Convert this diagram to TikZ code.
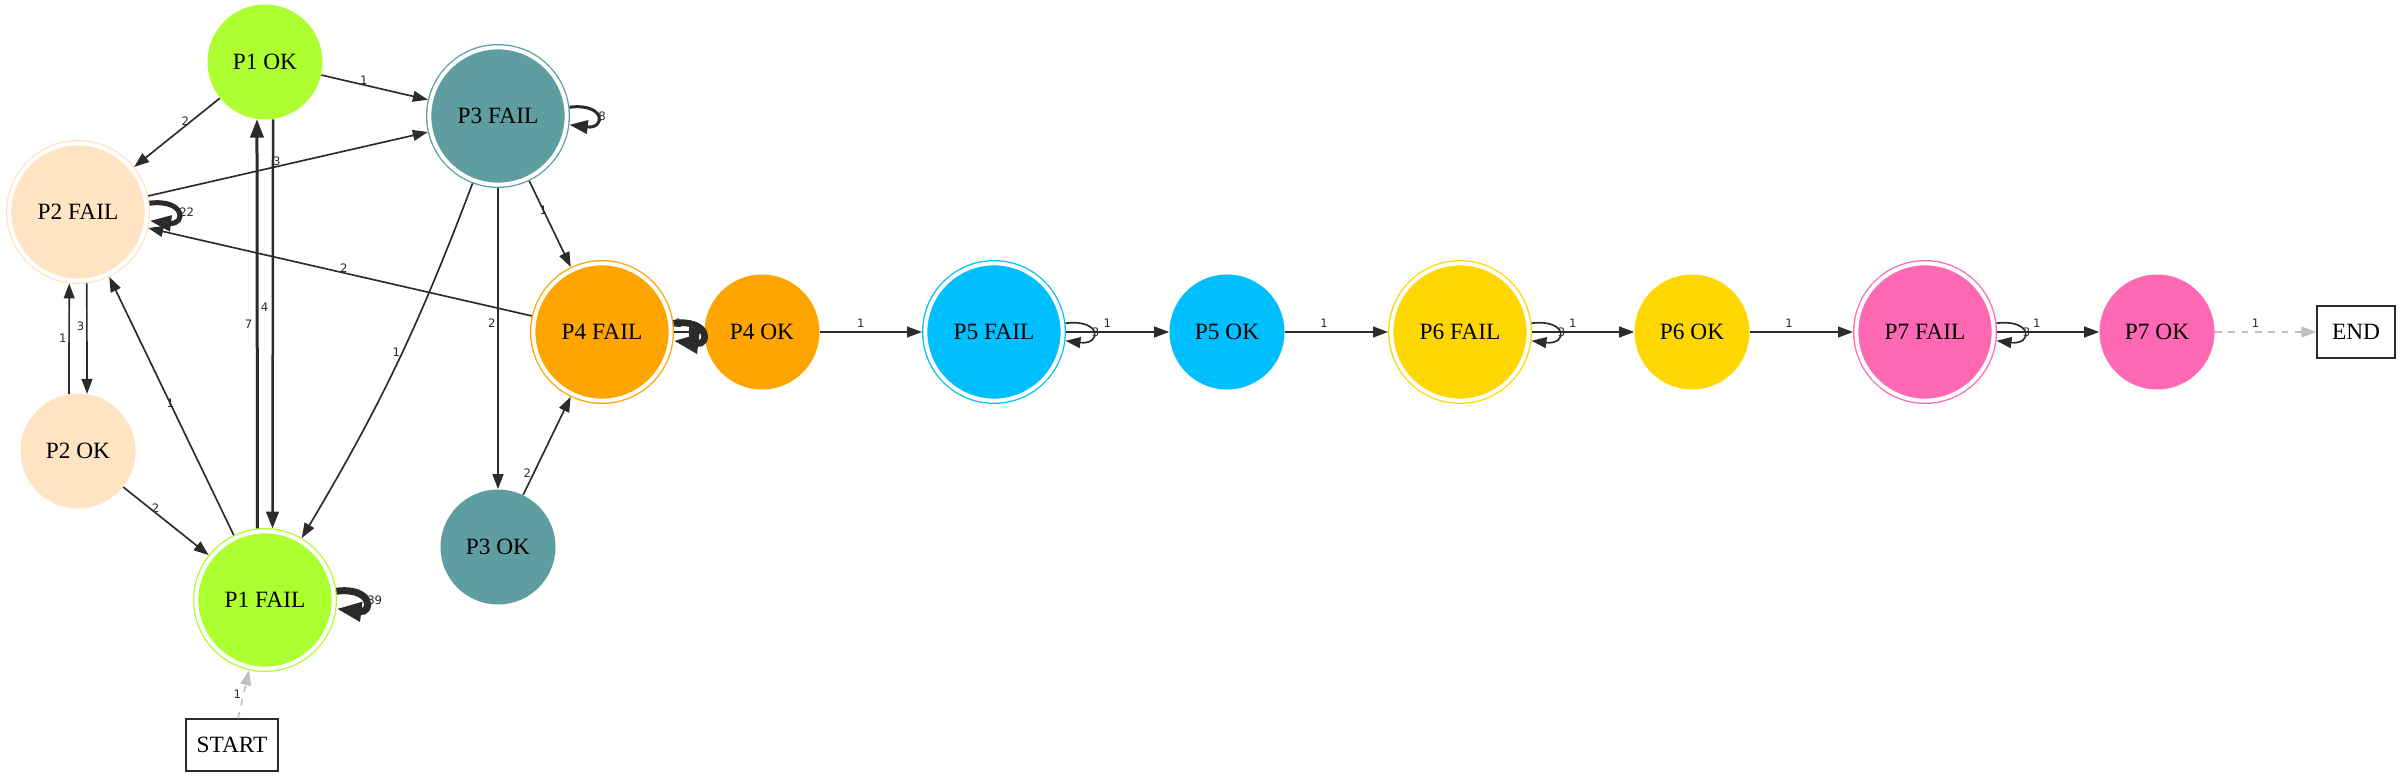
\documentclass[tikz,border=0pt]{standalone}
\usepackage{fontspec}
\setmainfont{Liberation Serif}
\newfontfamily\lblfont{DejaVu Sans}
\usetikzlibrary{arrows.meta}

\definecolor{cPone}{HTML}{ADFF2F}
\definecolor{cPtwo}{HTML}{FFE4C4}
\definecolor{cPthree}{HTML}{5F9EA0}
\definecolor{cPfour}{HTML}{FFA500}
\definecolor{cPfive}{HTML}{00BFFF}
\definecolor{cPsix}{HTML}{FFD700}
\definecolor{cPseven}{HTML}{FF69B4}
\definecolor{edgec}{HTML}{2B2B2B}
\definecolor{startc}{HTML}{C0C0C0}

\tikzset{
  ok/.style={circle, fill=#1, minimum size=69pt, inner sep=0pt},
  fail/.style={circle, fill=#1, draw=#1, double=white, double distance=2.4pt,
    line width=0.8pt, minimum size=82.4pt, inner sep=0pt, outer sep=2pt},
  box/.style={rectangle, draw=edgec, line width=0.8pt, minimum height=31.2pt},
  lbl/.style={font=\lblfont\fontsize{7}{8}\selectfont, inner sep=1pt, text=edgec},
  arr/.style={draw=edgec, line width=1pt, -{Triangle[length=9pt,width=6.5pt]}},
  loopr/.style={out=7, in=-7, distance=22pt},
  startend/.style={draw=startc, dashed, dash pattern=on 4pt off 4pt,
    -{Triangle[length=9pt,width=6.5pt]}}
}

\begin{document}
\begin{tikzpicture}[x=0.6pt,y=-0.6pt]
        \useasboundingbox (0,0) rectangle (2400,777);

        \begin{scope}[every node/.style={font=\fontsize{14}{16}\selectfont}]
          \node[ok=cPone]      (p1ok) at (265,62)   {P1 OK};
          \node[fail=cPthree]  (p3f)  at (498,116)  {P3 FAIL};
          \node[fail=cPtwo]    (p2f)  at (78,212)   {P2 FAIL};
          \node[ok=cPtwo]      (p2ok) at (78,451)   {P2 OK};
          \node[fail=cPone]    (p1f)  at (265,600)  {P1 FAIL};
          \node[ok=cPthree]    (p3ok) at (498,547)  {P3 OK};
          \node[fail=cPfour]   (p4f)  at (602,332)  {P4 FAIL};
          \node[ok=cPfour]     (p4ok) at (762,332)  {P4 OK};
          \node[fail=cPfive]   (p5f)  at (994,332)  {P5 FAIL};
          \node[ok=cPfive]     (p5ok) at (1227,332) {P5 OK};
          \node[fail=cPsix]    (p6f)  at (1460,332) {P6 FAIL};
          \node[ok=cPsix]      (p6ok) at (1692,332) {P6 OK};
          \node[fail=cPseven]  (p7f)  at (1925,332) {P7 FAIL};
          \node[ok=cPseven]    (p7ok) at (2157,332) {P7 OK};
          \node[box, minimum width=46.8pt] (end)   at (2356,332) {END};
          \node[box, minimum width=55.2pt] (start) at (232,745)  {START};
        \end{scope}

        \begin{scope}[every node/.style={lbl}]

          \begin{scope}[every edge/.style={arr}]
            \path (p1ok)     edge node[pos=.4,above=-1pt] {1} (p3f);
            \path (p1ok)     edge node[pos=.33,left] {2} (p2f);
            \path (p1ok.278) edge[line width=1.5pt, -{Triangle[length=10pt,width=7.5pt]}]
                                  node[pos=.46,left=1pt] {4} (p1f.84);
            \path (p1f.96)   edge[line width=1.8pt, -{Triangle[length=11pt,width=8pt]}]
                                  node[pos=.5,left=1pt] {7} (p1ok.262);
            \path (p2f)      edge node[pos=.46,above=-1pt] {3} (p3f);
            \path (p2f)      edge[loopr, line width=3pt, -{Triangle[length=13pt,width=9pt]}]
                                  node[pos=.5,right=-1pt] {22} (p2f);
            \path (p2f.277)  edge node[pos=.39,left] {3} (p2ok.81);
            \path (p2ok.99)  edge node[pos=.5,left] {1} (p2f.263);
            \path (p2ok)     edge node[pos=.38,above=-1pt] {2} (p1f);
            \path (p1f)      edge node[pos=.51] {1} (p2f);
            \path (p1f)      edge[loopr, line width=4.2pt, -{Triangle[length=15pt,width=11pt]}]
                                  node[pos=.5,right=-1pt] {39} (p1f);
            \path (p3f)      edge[bend left=5] node[pos=.46,left] {1} (p1f);
            \path (p3f)      edge node[pos=.45,left] {2} (p3ok);
            \path (p3f)      edge node[pos=.34] {1} (p4f);
            \path (p3f)      edge[loopr, line width=1.8pt, -{Triangle[length=11pt,width=8pt]}]
                                  node[pos=.5,right=-1pt] {8} (p3f);
            \path (p4f)      edge node[pos=.49,above=-1pt] {2} (p2f);
            \path (p3ok)     edge node[pos=.22,left] {2} (p4f);
            \path (p4f)      edge[loopr, line width=4pt, -{Triangle[length=15pt,width=11pt]}] (p4f);
            \path (p4f)      edge node[pos=.15,above=1.5pt] {1} (p4ok);
            \path (p4ok)     edge node[pos=.4,above=1.5pt] {1} (p5f);
            \path (p5f)      edge[loopr] node[pos=.5,right=-2pt] {3} (p5f);
            \path (p5f)      edge node[pos=.4,above=1.5pt] {1} (p5ok);
            \path (p5ok)     edge node[pos=.38,above=1.5pt] {1} (p6f);
            \path (p6f)      edge[loopr] node[pos=.5,right=-2pt] {3} (p6f);
            \path (p6f)      edge node[pos=.4,above=1.5pt] {1} (p6ok);
            \path (p6ok)     edge node[pos=.38,above=1.5pt] {1} (p7f);
            \path (p7f)      edge[loopr] node[pos=.5,right=-2pt] {3} (p7f);
            \path (p7f)      edge node[pos=.39,above=1.5pt] {1} (p7ok);
            \path (p7ok)     edge[startend] node[pos=.4,above=1.5pt] {1} (end);
            \path (start)    edge[startend] node[pos=.5,left] {1} (p1f);
          \end{scope}
        \end{scope}

      \end{tikzpicture}
\end{document}
